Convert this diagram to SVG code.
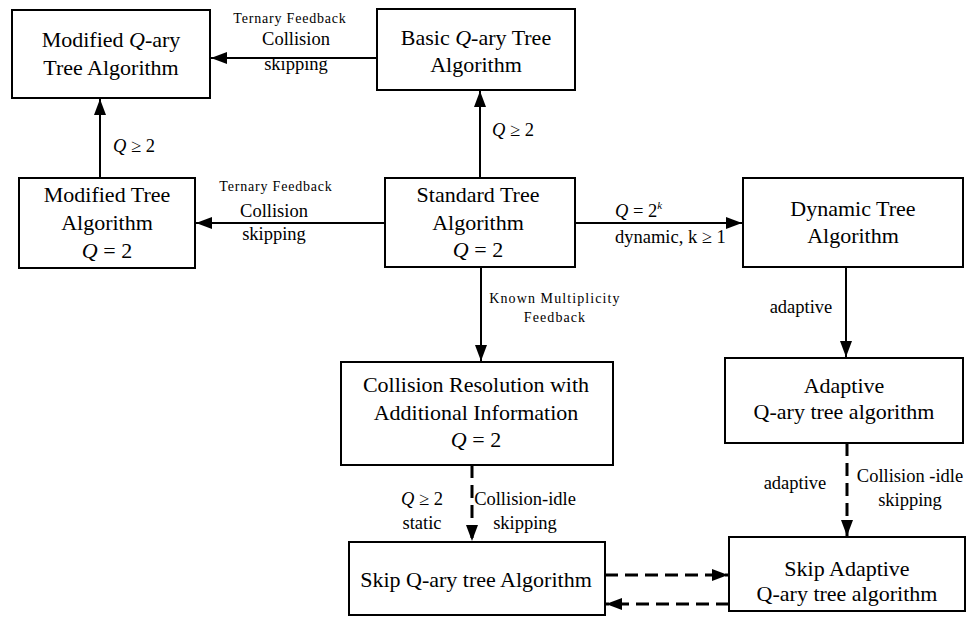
<svg xmlns="http://www.w3.org/2000/svg" width="967" height="619" viewBox="0 0 967 619">
  <style>
    .box { fill: #fff; stroke: #000; stroke-width: 2; }
    .t { font-family: "Liberation Serif", "Times New Roman", serif; font-size: 22px; fill: #000; text-anchor: middle; }
    .lbl { font-family: "Liberation Serif", "Times New Roman", serif; font-size: 18.5px; fill: #000; }
    .sm { font-family: "Liberation Serif", "Times New Roman", serif; font-size: 14px; fill: #000; text-anchor: middle; letter-spacing: 0.8px; }
    .wide { letter-spacing: 1.1px; }
    .mid { text-anchor: middle; }
    .q { font-style: italic; }
    .edge { fill: none; stroke: #000; stroke-width: 2; marker-end: url(#head); }
    .dash { fill: none; stroke: #000; stroke-width: 3; stroke-dasharray: 13 7; marker-end: url(#head); }
  </style>
  <defs>
    <marker id="head" markerUnits="userSpaceOnUse" markerWidth="17" markerHeight="13" refX="16" refY="6" orient="auto">
      <path d="M0,0 L16,6 L0,12 z" fill="#000"/>
    </marker>
  </defs>
  <rect width="967" height="619" fill="#fff"/>

  <!-- connectors -->
  <g id="connectors">
    <path class="edge" d="M377,58 H211"/>
    <path class="edge" d="M480,178 V91"/>
    <path class="edge" d="M100,178 V99"/>
    <path class="edge" d="M385,223 H196"/>
    <path class="edge" d="M575,223 H742"/>
    <path class="edge" d="M481,267 V361"/>
    <path class="edge" d="M846,267 V357"/>
    <path class="dash" d="M472,465 V541"/>
    <path class="dash" d="M847,443 V536"/>
    <path class="dash" d="M605,575 H728"/>
    <path class="dash" d="M729,604 H606"/>

    <!-- edge labels -->
    <text class="sm" x="290" y="23">Ternary Feedback</text>
    <text class="lbl mid" x="296" y="45">Collision</text>
    <text class="lbl mid" x="296" y="70">skipping</text>

    <text class="lbl" x="492" y="136"><tspan class="q">Q</tspan> ≥ 2</text>
    <text class="lbl" x="113" y="152"><tspan class="q">Q</tspan> ≥ 2</text>

    <text class="sm" x="276" y="191">Ternary Feedback</text>
    <text class="lbl mid" x="274" y="217">Collision</text>
    <text class="lbl mid" x="274" y="240">skipping</text>

    <text class="lbl" x="615" y="217"><tspan class="q">Q</tspan> = 2<tspan class="q" font-size="11" dy="-8">k</tspan></text>
    <text class="lbl" x="615" y="243">dynamic, k ≥ 1</text>

    <text class="sm wide" x="555" y="303">Known Multiplicity</text>
    <text class="sm wide" x="555" y="322">Feedback</text>

    <text class="lbl mid" x="801" y="313">adaptive</text>

    <text class="lbl mid" x="422" y="505"><tspan class="q">Q</tspan> ≥ 2</text>
    <text class="lbl mid" x="422" y="529">static</text>
    <text class="lbl mid" x="525" y="505">Collision-idle</text>
    <text class="lbl mid" x="525" y="529">skipping</text>

    <text class="lbl mid" x="795" y="489">adaptive</text>
    <text class="lbl mid" x="910" y="482">Collision -idle</text>
    <text class="lbl mid" x="910" y="506">skipping</text>
  </g>

  <!-- nodes -->
  <g id="modified-qary">
    <rect class="box" x="12" y="10" width="198" height="88"/>
    <text class="t" x="111" y="47">Modified <tspan class="q">Q</tspan>-ary</text>
    <text class="t" x="111" y="75">Tree Algorithm</text>
  </g>
  <g id="basic-qary">
    <rect class="box" x="377" y="9" width="198" height="81"/>
    <text class="t" x="476" y="45">Basic <tspan class="q">Q</tspan>-ary Tree</text>
    <text class="t" x="476" y="72">Algorithm</text>
  </g>
  <g id="modified-tree">
    <rect class="box" x="19" y="178" width="176" height="90"/>
    <text class="t" x="107" y="202">Modified Tree</text>
    <text class="t" x="107" y="230">Algorithm</text>
    <text class="t" x="107" y="258"><tspan class="q">Q</tspan> = 2</text>
  </g>
  <g id="standard-tree">
    <rect class="box" x="385" y="178" width="190" height="89"/>
    <text class="t" x="478" y="202">Standard Tree</text>
    <text class="t" x="478" y="230">Algorithm</text>
    <text class="t" x="478" y="257"><tspan class="q">Q</tspan> = 2</text>
  </g>
  <g id="dynamic-tree">
    <rect class="box" x="743" y="178" width="220" height="89"/>
    <text class="t" x="853" y="216">Dynamic Tree</text>
    <text class="t" x="853" y="243">Algorithm</text>
  </g>
  <g id="collision-resolution">
    <rect class="box" x="341" y="362" width="272" height="103"/>
    <text class="t" x="476" y="392">Collision Resolution with</text>
    <text class="t" x="476" y="420">Additional Information</text>
    <text class="t" x="476" y="447"><tspan class="q">Q</tspan> = 2</text>
  </g>
  <g id="adaptive-qary">
    <rect class="box" x="725" y="358" width="238" height="85"/>
    <text class="t" x="844" y="393">Adaptive</text>
    <text class="t" x="844" y="419">Q-ary tree algorithm</text>
  </g>
  <g id="skip-qary">
    <rect class="box" x="349" y="542" width="256" height="73"/>
    <text class="t" x="476" y="587">Skip Q-ary tree Algorithm</text>
  </g>
  <g id="skip-adaptive">
    <rect class="box" x="729" y="537" width="236" height="74"/>
    <text class="t" x="847" y="576">Skip Adaptive</text>
    <text class="t" x="847" y="601">Q-ary tree algorithm</text>
  </g>
</svg>
